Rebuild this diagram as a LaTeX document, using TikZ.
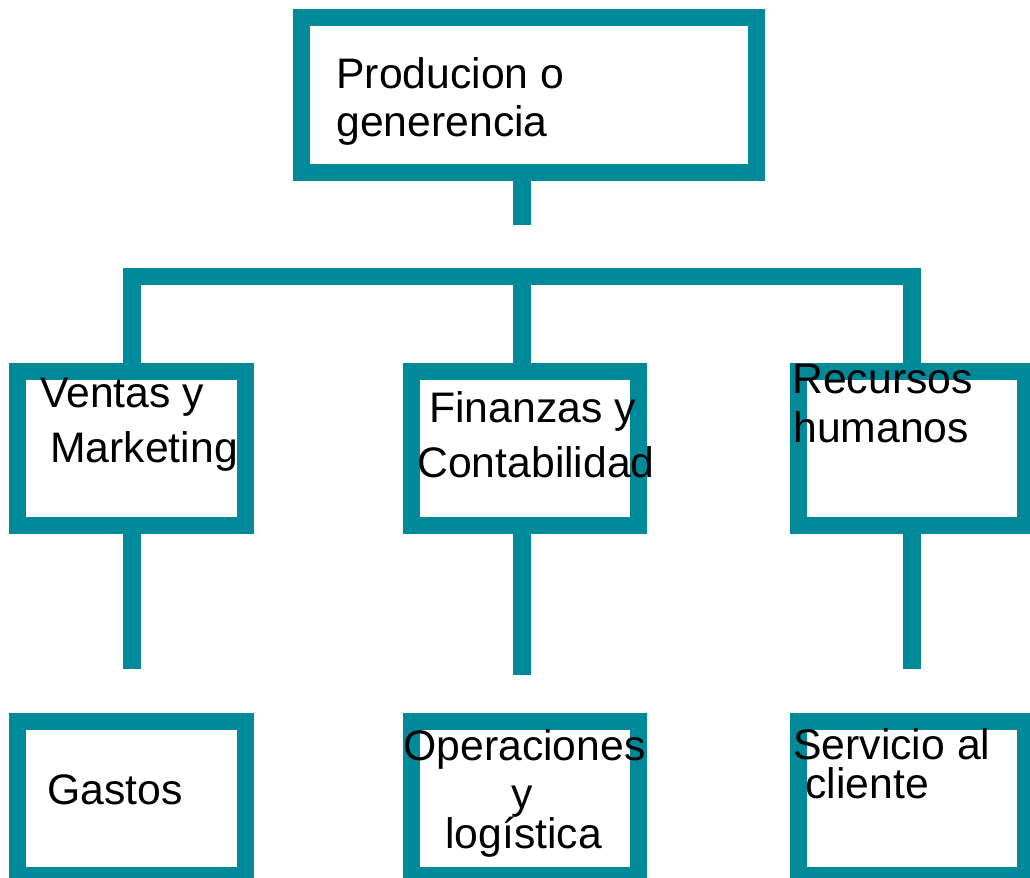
\documentclass[tikz,border=0pt]{standalone}
\usepackage{fontspec}
\setmainfont{Liberation Sans}
\definecolor{tealline}{RGB}{0,138,153}
\begin{document}
\begin{tikzpicture}[x=0.02cm,y=-0.02cm,
  orgbox/.style={draw=tealline,line width=0.34cm,fill=white,rectangle,inner sep=0pt,anchor=center},
  link/.style={draw=tealline,line width=0.35cm,line cap=butt,line join=miter},
  lbl/.style={inner sep=0pt,font=\fontsize{24.3pt}{28pt}\selectfont,text=black}]
\useasboundingbox (0,0) rectangle (1030,877);
\clip (0,0) rectangle (1030,877);
% boxes
\node[orgbox,minimum width=455*0.02cm,minimum height=155*0.02cm] (top) at (529,95) {};
\node[orgbox,minimum width=228*0.02cm,minimum height=154*0.02cm] (ventas) at (131.75,448.5) {};
\node[orgbox,minimum width=227*0.02cm,minimum height=154*0.02cm] (finanzas) at (525,448.5) {};
\node[orgbox,minimum width=227*0.02cm,minimum height=154*0.02cm] (recursos) at (912,448.5) {};
\node[orgbox,minimum width=228*0.02cm,minimum height=154*0.02cm] (gastos) at (131.75,798.5) {};
\node[orgbox,minimum width=227*0.02cm,minimum height=154*0.02cm] (operaciones) at (525,798.5) {};
\node[orgbox,minimum width=227*0.02cm,minimum height=154*0.02cm] (servicio) at (912,798.5) {};
% coordinates
\coordinate (topend) at (522,225);
\coordinate (bar) at (522,276.5);
\coordinate (gend) at (132,669);
\coordinate (oend) at (522,675);
\coordinate (send) at (912,669);
% connectors
\draw[link] (top.south -| topend) -- (topend);
\draw[link] (ventas.north) |- (bar) -| (recursos.north);
\draw[link] (bar) -- (bar |- finanzas.north);
\draw[link] (ventas.south -| gend) -- (gend);
\draw[link] (finanzas.south -| oend) -- (oend);
\draw[link] (recursos.south -| send) -- (send);
% texts
\node[lbl,anchor=base west] (t1a) at (336,88) {Producion o};
\node[lbl,anchor=base west] (t1b) at (336,136) {generencia};
\node[lbl,anchor=base west] (t2a) at (40,407) {Ventas y};
\node[lbl,anchor=base west] (t2b) at (50,462) {Marketing};
\node[lbl,anchor=base west] (t3a) at (429,422) {Finanzas y};
\node[lbl,anchor=base west] (t3b) at (417,477) {Contabilidad};
\node[lbl,anchor=base west] (t4a) at (792,393) {Recursos};
\node[lbl,anchor=base west] (t4b) at (793,442) {humanos};
\node[lbl,anchor=base west] (t5) at (47,804) {Gastos};
\node[lbl,anchor=base west] (t6a) at (403,760) {Operaciones};
\node[lbl,anchor=base] (t6b) at (522,808) {y};
\node[lbl,anchor=base] (t6c) at (523.5,848) {logística};
\node[lbl,anchor=base west] (t7a) at (793,759) {Servicio al};
\node[lbl,anchor=base west] (t7b) at (805,798) {cliente};
\end{tikzpicture}
\end{document}
